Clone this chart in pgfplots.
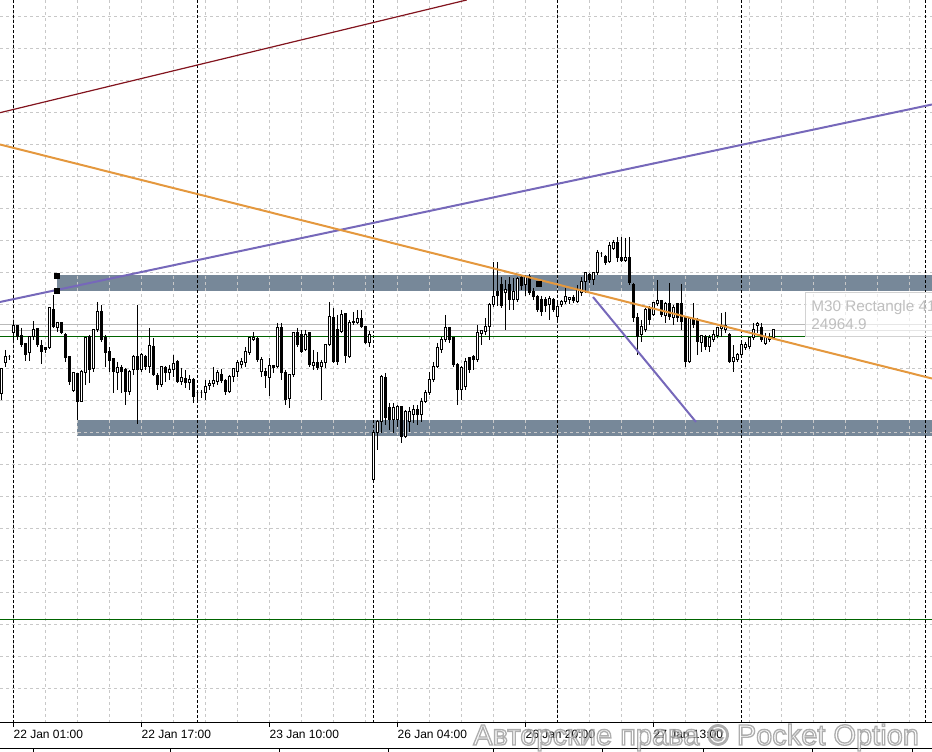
\documentclass[border=0pt]{standalone}
\usepackage{fontspec}
\setmainfont{Liberation Sans}
\usepackage{pgfplots}
\pgfplotsset{compat=1.18}
\usepackage{pgfplotstable}

\definecolor{slate}{RGB}{119,136,153}
\definecolor{gridgray}{RGB}{200,200,200}
\definecolor{trendorange}{RGB}{228,152,62}
\definecolor{trendpurple}{RGB}{118,104,186}
\definecolor{trendred}{RGB}{130,20,30}
\definecolor{levelgreen}{RGB}{0,100,0}
\definecolor{levelgray}{RGB}{185,185,185}

% one candle, drawn relative to its open price
\pgfdeclareplotmark{candle}{%
  \pgfmathsetlengthmacro\cwh{(\vo-\vh)*0.75pt}%
  \pgfmathsetlengthmacro\cwl{(\vo-\vl)*0.75pt}%
  \pgfmathsetlengthmacro\cbc{(\vo-\vc)*0.75pt}%
  \pgfsetlinewidth{0.75pt}\pgfsetbuttcap\pgfsetmiterjoin
  \pgfsetstrokecolor{black}%
  \pgfpathmoveto{\pgfqpoint{0pt}{\cwh}}\pgfpathlineto{\pgfqpoint{0pt}{\cwl}}%
  \pgfusepath{stroke}%
  \ifdim\cbc>0.1pt \pgfsetfillcolor{white}\else\pgfsetfillcolor{black}\fi
  \pgfpathrectangle{\pgfqpoint{-0.75pt}{0pt}}{\pgfqpoint{1.5pt}{\cbc}}%
  \pgfusepath{fill,stroke}%
}

% candle index k, open, high, low, close (screen units, downwards)
\pgfplotstableread{
k o h l c
0 394 368 400 369
1 363 350 367 357
2 357 355 360 357
3 333 323 340 326
4 326 325 340 337
5 336 328 347 345
6 344 343 361 355
7 353 336 361 337
8 337 321 340 330
9 329 329 347 345
10 346 340 364 352
11 348 347 353 350
12 348 307 349 308
13 310 295 328 327
14 328 322 332 323
15 323 322 334 333
16 335 333 362 358
17 357 356 385 382
18 391 372 392 373
19 374 374 420 402
20 402 370 402 372
21 373 337 385 338
22 337 335 383 370
23 369 329 372 330
24 330 302 332 312
25 312 305 342 340
26 338 335 367 353
27 352 347 372 361
28 359 358 393 372
29 373 362 390 368
30 368 365 393 372
31 370 368 405 392
32 392 370 395 372
33 370 355 375 357
34 357 305 424 370
35 370 353 372 355
36 357 355 370 367
37 367 328 373 346
38 347 338 376 375
39 376 373 390 385
40 385 366 387 367
41 368 366 382 373
42 373 365 380 370
43 370 355 377 364
44 362 360 383 382
45 382 368 385 378
46 379 370 388 383
47 383 375 390 380
48 380 378 403 397
49 393 391 402 393
50 393 390 398 393
51 393 380 400 387
52 386 380 390 384
53 384 367 387 381
54 382 370 385 373
55 375 369 383 381
56 381 379 395 392
57 392 375 393 377
58 377 368 382 369
59 372 360 377 363
60 365 358 368 362
61 363 347 367 352
62 353 337 355 338
63 340 332 341 338
64 339 337 362 360
65 372 357 377 360
66 372 368 388 376
67 378 358 396 366
68 366 365 373 368
69 367 323 368 328
70 328 323 380 373
71 373 370 405 400
72 399 375 408 375
73 375 332 377 333
74 333 328 347 345
75 335 330 353 352
76 350 330 351 335
77 333 332 367 365
78 366 350 370 363
79 363 352 370 368
80 367 360 400 363
81 363 345 368 345
82 345 302 346 317
83 318 308 363 362
84 330 315 365 362
85 332 310 333 315
86 314 314 363 356
87 357 320 358 323
88 323 312 325 322
89 323 310 324 319
90 319 310 328 327
91 327 327 344 343
92 343 331 347 335
93 480 433 482 433
94 433 420 450 422
95 422 375 433 377
96 378 373 425 418
97 408 403 430 420
98 420 403 433 408
99 420 405 427 407
100 407 407 443 437
101 437 410 438 412
102 422 407 432 412
103 415 405 423 410
104 410 405 425 415
105 415 398 422 402
106 402 390 403 393
107 393 372 395 380
108 380 362 382 367
109 367 343 368 348
110 350 337 353 340
111 340 315 342 328
112 328 327 343 340
113 338 337 367 365
114 365 363 405 390
115 390 366 400 368
116 387 358 390 362
117 358 357 373 370
118 357 355 370 360
119 360 325 362 333
120 334 330 345 331
121 332 318 335 327
122 327 303 340 305
123 305 262 307 297
124 292 262 306 296
125 285 277 308 306
126 293 280 330 290
127 285 277 310 300
128 300 278 310 292
129 300 277 302 279
130 278 276 290 286
131 285 275 296 277
132 277 274 295 293
133 292 288 300 297
134 297 295 312 310
135 300 296 316 312
136 300 297 312 306
137 305 296 320 299
138 300 298 312 310
139 317 302 323 307
140 305 300 307 302
141 302 288 304 297
142 300 297 304 298
143 298 295 303 301
144 302 285 303 290
145 293 277 296 282
146 282 273 293 273
147 275 273 283 280
148 280 272 285 273
149 273 250 275 253
150 254 252 257 254
151 257 255 265 263
152 262 242 263 246
153 249 240 250 243
154 243 237 262 258
155 258 237 262 261
156 261 238 262 258
157 258 237 285 283
158 285 283 322 318
159 318 313 355 337
160 335 320 342 327
161 330 308 332 310
162 308 306 325 320
163 315 302 316 303
164 304 280 306 301
165 301 300 317 315
166 316 302 323 304
167 304 283 320 317
168 318 305 325 308
169 304 303 322 318
170 304 284 330 322
171 318 317 367 362
172 362 318 363 319
173 320 303 328 325
174 320 318 355 342
175 343 335 352 336
176 337 335 350 347
177 347 335 352 338
178 340 330 342 335
179 336 327 338 328
180 329 313 337 327
181 330 312 333 326
182 335 333 363 362
183 362 345 372 358
184 360 353 362 355
185 355 343 357 345
186 348 342 350 345
187 347 337 349 338
188 338 323 340 330
189 326 322 333 324
190 328 323 342 340
191 344 333 345 337
192 340 333 342 338
193 338 330 338 330
}\candles

\newcommand\wmfont{\fontsize{21.75}{24}\selectfont}

\begin{document}
\begin{tikzpicture}
\begin{axis}[
  set layers,
  scale only axis, width=699pt, height=542.25pt,
  xmin=0, xmax=932, ymin=-723, ymax=0,
  axis x line*=bottom, axis y line*=left,
  y axis line style={draw=none},
  x axis line style={black, line width=0.75pt},
  clip mode=individual,
  xtick={13.333,141.333,269.333,397.333,525.333,653.333},
  xticklabels={22 Jan 01:00,22 Jan 17:00,23 Jan 10:00,26 Jan 04:00,26 Jan 20:00,27 Jan 13:00},
  minor xtick={13.333,45.333,...,925},
  ytick={-17,-49,...,-689},
  yticklabels={},
  ytick style={draw=none},
  tick align=outside,
  major tick length=3pt, minor tick length=0pt,
  xtick style={black, line width=0.75pt},
  grid=both,
  major grid style={gridgray, line width=0.75pt, dash pattern=on 2.25pt off 2.25pt},
  minor grid style={gridgray, line width=0.75pt, dash pattern=on 2.25pt off 2.25pt},
  extra x ticks={13.333,197.333,373.333,557.333,741.333,925.333},
  extra x tick labels={},
  extra x tick style={grid=major, major tick length=0pt,
    major grid style={black, line width=0.75pt, dash pattern=on 2.25pt off 1.5pt}},
  xticklabel style={font=\fontsize{9}{10}\selectfont, anchor=north west, inner sep=0pt, yshift=-2.5pt},
]
% support / resistance zones
\addplot[on layer=axis background, fill=slate, draw=none, forget plot]
  coordinates {(57,-275) (932,-275) (932,-291) (57,-291)} --cycle;
\addplot[on layer=axis background, fill=slate, draw=none, forget plot]
  coordinates {(77,-420) (932,-420) (932,-436) (77,-436)} --cycle;
% horizontal levels
\addplot[levelgray, line width=0.75pt, forget plot] coordinates {(0,-324.3) (932,-324.3)};
\addplot[levelgray, line width=0.75pt, forget plot] coordinates {(0,-330.3) (932,-330.3)};
\addplot[levelgreen, line width=0.75pt, forget plot] coordinates {(0,-337) (932,-337)};
\addplot[levelgreen, line width=0.75pt, forget plot] coordinates {(0,-620) (932,-620)};
% candles
\addplot[scatter, only marks, mark=candle, forget plot,
  scatter/use mapped color={draw=black, fill=black},
  visualization depends on={\thisrow{o} \as \vo},
  visualization depends on={\thisrow{h} \as \vh},
  visualization depends on={\thisrow{l} \as \vl},
  visualization depends on={\thisrow{c} \as \vc}]
  table[x expr=1.333+4*\thisrow{k}, y expr=-\thisrow{o}] {\candles};
% trend lines
\addplot[trendred, line width=0.9pt, forget plot] coordinates {(0,-112.7) (466.7,0)};
\addplot[trendpurple, line width=1.5pt, forget plot] coordinates {(0,-302) (932,-104.5)};
\addplot[trendorange, line width=1.5pt, forget plot] coordinates {(0,-144.5) (932,-378.5)};
\addplot[trendpurple, line width=1.5pt, forget plot] coordinates {(593,-297) (696,-422)};
% object anchor points
\addplot[only marks, mark=square*, mark size=1.9pt, black, forget plot]
  coordinates {(57,-276) (57,-291) (539,-284)};
% object tooltip
\draw[gray!35, line width=0.75pt, fill=white, fill opacity=0.65] (axis cs:805,-293) rectangle (axis cs:945,-337);
\node[anchor=base west, inner sep=0pt, text=gray!50, font=\fontsize{11.5}{14}\selectfont] at (axis cs:811,-312) {M30 Rectangle 41};
\node[anchor=base west, inner sep=0pt, text=gray!50, font=\fontsize{11.5}{14}\selectfont] at (axis cs:811,-330) {24964.9};
% lower frame line
\draw[black, line width=0.75pt] (axis cs:0,-748.3) -- (axis cs:932,-748.3);
\coordinate (wm) at (axis cs:473,-745);
\coordinate (tl) at (axis cs:0,0);
\coordinate (br) at (axis cs:932,-752);
\coordinate (f0) at (axis cs:0,-748.3);
\end{axis}
\foreach \px in {33,170.7,279.3,388.3,493.3,602.7,703.3,812.7,912.7}
  \draw[black, line width=0.75pt] ([xshift=\px*0.75pt]f0) -- ++(0,-3pt);
% watermark: outlined letters
\node[anchor=base west, inner sep=0pt, font=\wmfont, text=white, text opacity=0.6] at (wm)
  {\special{pdf:literal direct 0.47 0.47 0.47 RG 1 w 2 Tr}Авторские права © Pocket Option\special{pdf:literal direct 0 Tr}};
\pgfresetboundingbox
\useasboundingbox (tl) rectangle (br);
\end{tikzpicture}
\end{document}
